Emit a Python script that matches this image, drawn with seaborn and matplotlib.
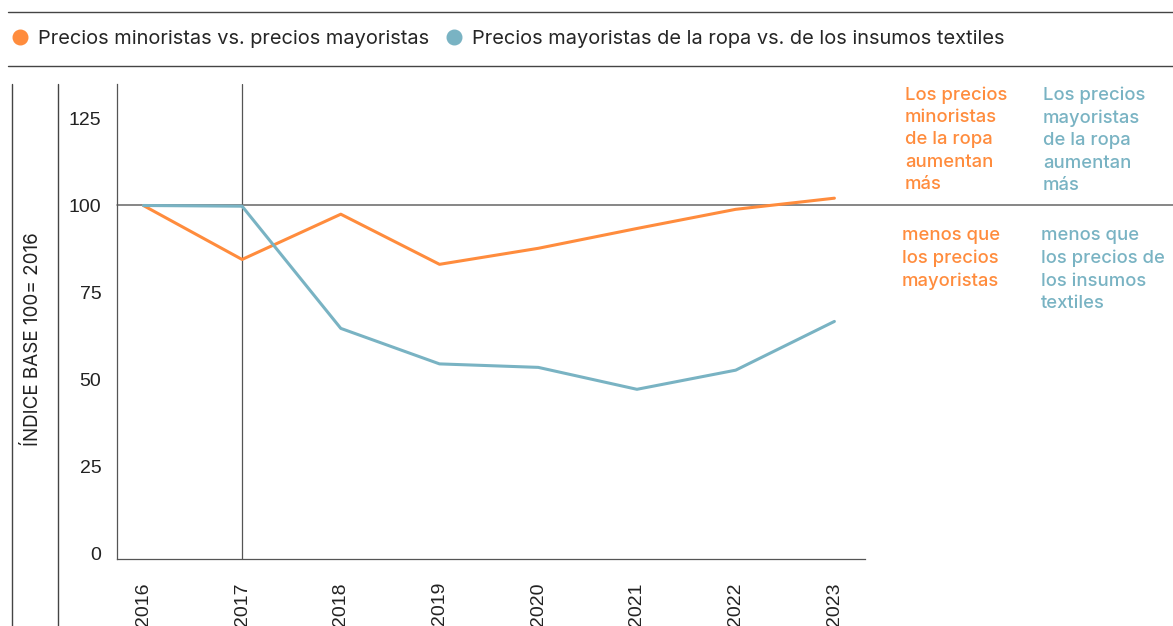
import pandas as pd
import matplotlib.pyplot as plt
import seaborn as sns
from matplotlib.lines import Line2D

years = [2016, 2017, 2018, 2019, 2020, 2021, 2022, 2023]
minoristas = [100, 84.5, 97.5, 83.1, 87.7, 93.4, 98.9, 102.1]
mayoristas = [100, 99.8, 64.7, 54.5, 53.5, 47.2, 52.7, 66.7]
series_names = ['Precios minoristas vs. precios mayoristas',
                'Precios mayoristas de la ropa vs. de los insumos textiles']
y_ticks = [0, 25, 50, 75, 100, 125]

ORANGE = '#ff8c3d'
BLUE = '#79b3c3'
GREY = '#555555'

df = pd.DataFrame({
    'year': years * 2,
    'value': minoristas + mayoristas,
    'serie': [series_names[0]] * len(years) + [series_names[1]] * len(years),
})

W, H = 1173, 626
sns.set_style('white')
plt.rcParams['font.family'] = ['Inter', 'DejaVu Sans']

fig = plt.figure(figsize=(W / 100, H / 100), dpi=100)
ax = fig.add_axes([116.7 / W, 1 - 558.5 / H, (865 - 116.7) / W, (558.5 - 84) / H])

sns.lineplot(data=df, x='year', y='value', hue='serie',
             palette={series_names[0]: ORANGE, series_names[1]: BLUE},
             linewidth=2.2, legend=False, ax=ax, zorder=3)

ax.set_xlim(2016 - 0.27, 2023 + 0.31)
ax.set_ylim(-1.4, 134.9)
ax.set_xticks(years)
ax.set_xticklabels([str(y) for y in years], rotation=90)
ax.set_yticks(y_ticks)
ax.set_xlabel('')
ax.set_ylabel('')
for s in ['top', 'right']:
    ax.spines[s].set_visible(False)
for s in ['left', 'bottom']:
    ax.spines[s].set_color(GREY)
    ax.spines[s].set_linewidth(0.9)
ax.tick_params(axis='x', length=8, width=0.9, color=GREY, pad=9)
ax.tick_params(axis='y', length=0, pad=11)
for lab in ax.get_xticklabels() + ax.get_yticklabels():
    lab.set_family(['Liberation Sans', 'DejaVu Sans'])
    lab.set_fontsize(14)
    lab.set_color('#222222')

# reference lines
ax.axvline(2017, color=GREY, lw=0.9, zorder=1)
ax.axhline(100, xmin=0, xmax=(W - 116.7) / (865 - 116.7), color='#666666',
           lw=1.1, clip_on=False, zorder=1)

# frame lines of the figure
def fline(x0, y0, x1, y1):
    fig.add_artist(Line2D([x0 / W, x1 / W], [1 - y0 / H, 1 - y1 / H],
                          color='#444444', lw=1.0))

fline(8, 11.5, W, 11.5)
fline(8, 66, W, 66)
fline(11.7, 84, 11.7, H)
fline(58.3, 84, 58.3, H)

fig.text(33 / W, 1 - 339 / H, 'ÍNDICE BASE 100= 2016', rotation=90,
         ha='center', va='center', fontsize=13.6, color='#222222')

# legend
handles = [Line2D([], [], marker='o', ls='none', ms=10.5, color=c)
           for c in (ORANGE, BLUE)]
fig.legend(handles, series_names, loc='center left',
           bbox_to_anchor=(9 / W, 1 - 39 / H), ncol=2, frameon=False,
           fontsize=14.4, handletextpad=0.35, columnspacing=0.7,
           handlelength=1.1, borderaxespad=0, borderpad=0)

# annotations
ann = dict(fontsize=13.3, fontweight='medium', va='top', ha='left',
           linespacing=1.42)
fig.text(905 / W, 1 - 86 / H, 'Los precios\nminoristas\nde la ropa\naumentan\nmás',
         color=ORANGE, **ann)
fig.text(902 / W, 1 - 227 / H, 'menos que\nlos precios\nmayoristas',
         color=ORANGE, **ann)
fig.text(1043 / W, 1 - 86 / H, 'Los precios\nmayoristas\nde la ropa\naumentan\nmás',
         color=BLUE, **ann)
fig.text(1041 / W, 1 - 227 / H, 'menos que\nlos precios de\nlos insumos\ntextiles',
         color=BLUE, **ann)

fig.savefig('out.png', dpi=100)
